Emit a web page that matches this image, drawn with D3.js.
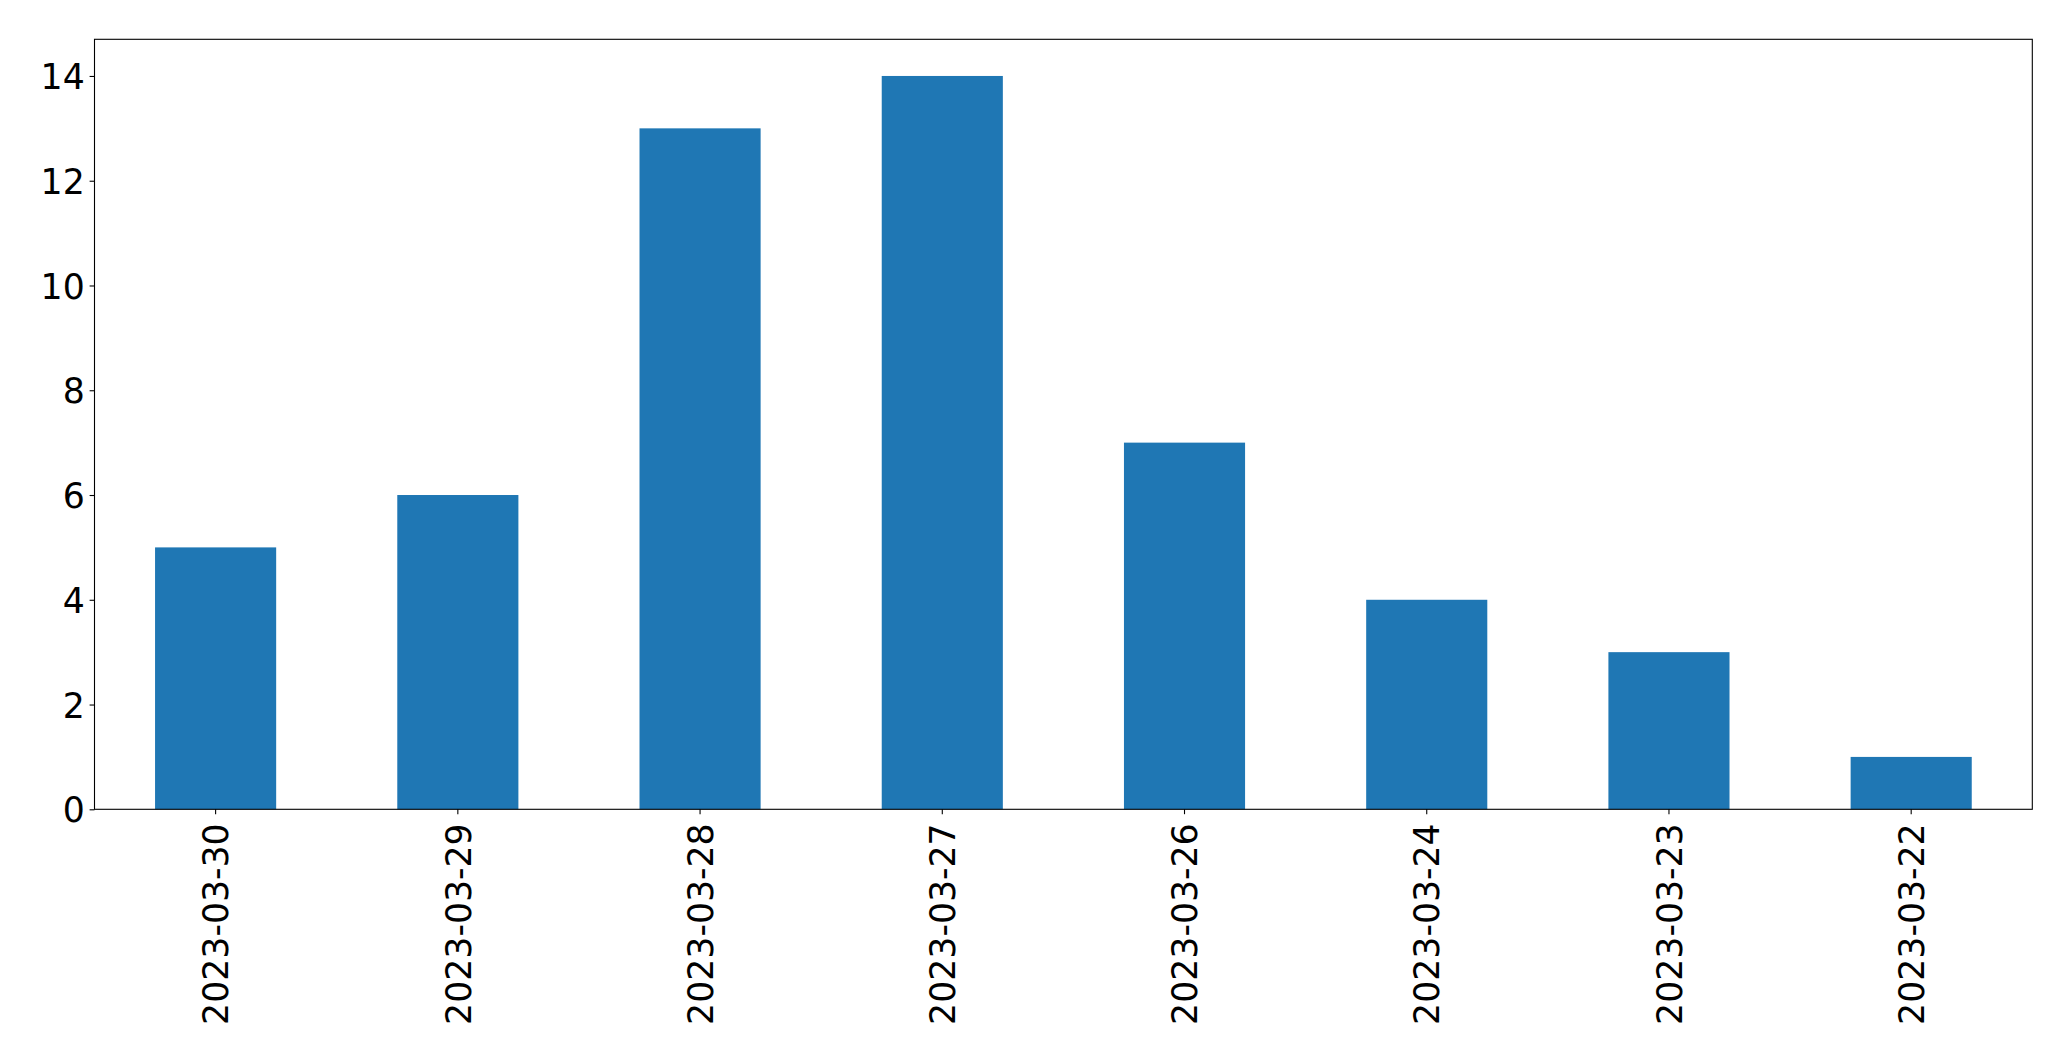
<!DOCTYPE html>
<html><head><meta charset="utf-8">
<script src="https://cdn.jsdelivr.net/npm/d3@7"></script>
<style>html,body{margin:0;padding:0;background:#fff;overflow:hidden}</style>
</head><body>
<svg id="chart" width="2071" height="1061"></svg>
<script>
const categories = ["2023-03-30","2023-03-29","2023-03-28","2023-03-27","2023-03-26","2023-03-24","2023-03-23","2023-03-22"];
const values = [5, 6, 13, 14, 7, 4, 3, 1];
const yTicks = [0, 2, 4, 6, 8, 10, 12, 14];

(function () {
const svg = d3.select("#chart");
const mLeft = 94.5, mRight = 2032.3, mTop = 39.3, mBottom = 809.3;
const fs = 34.7;
const font = "'DejaVu Sans', sans-serif";

const x = d3.scaleBand().domain(categories).range([mLeft, mRight]).paddingInner(0.5).paddingOuter(0.25);
const y = d3.scaleLinear().domain([0, 14.7]).range([mBottom, mTop]);

svg.append("rect").attr("width", 2071).attr("height", 1061).attr("fill", "#fff");

svg.append("g").selectAll("rect").data(values).join("rect")
  .attr("x", (d, i) => x(categories[i]))
  .attr("width", x.bandwidth())
  .attr("y", d => y(d))
  .attr("height", d => y(0) - y(d))
  .attr("fill", "#1f77b4");

svg.append("rect").attr("x", mLeft).attr("y", mTop)
  .attr("width", mRight - mLeft).attr("height", mBottom - mTop)
  .attr("fill", "none").attr("stroke", "#000").attr("stroke-width", 1.1);

const yAxis = d3.axisLeft(y).tickValues(yTicks).tickSize(4.9).tickPadding(4.9).tickFormat(d3.format("d"));
const gy = svg.append("g").attr("transform", `translate(${mLeft},0)`).call(yAxis);
gy.select(".domain").remove();
gy.selectAll(".tick line").attr("stroke", "#000").attr("stroke-width", 1.1);
gy.selectAll(".tick text").attr("font-family", font).attr("font-size", fs).attr("fill", "#000").attr("dy", "0.365em");

const xAxis = d3.axisBottom(x).tickSize(4.9).tickPadding(0);
const gx = svg.append("g").attr("transform", `translate(0,${mBottom})`).call(xAxis);
gx.select(".domain").remove();
gx.selectAll(".tick line").attr("stroke", "#000").attr("stroke-width", 1.1);
gx.selectAll(".tick text")
  .attr("font-family", font).attr("font-size", fs).attr("fill", "#000")
  .attr("text-anchor", "end")
  .attr("x", 0).attr("y", 0)
  .attr("dy", "0.365em")
  .attr("transform", "translate(0,14) rotate(-90)");
})();
</script>
</body></html>
